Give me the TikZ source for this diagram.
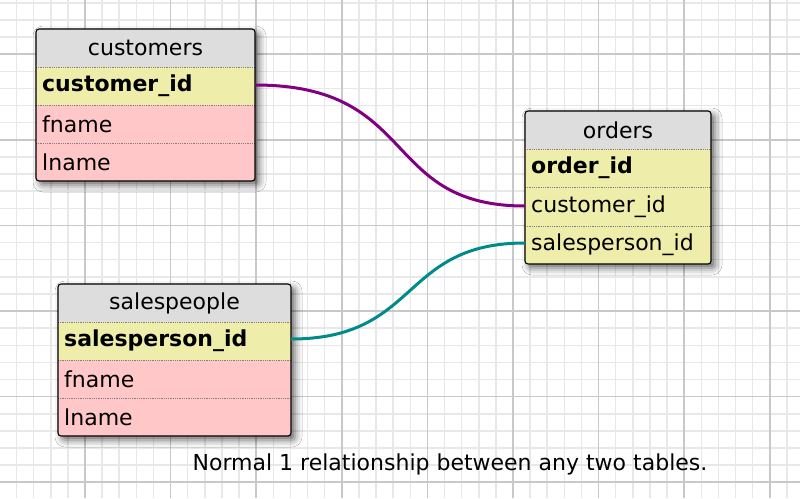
\documentclass[tikz,border=0pt]{standalone}
\usepackage{fontspec}
\setmainfont{DejaVu Sans}
\usetikzlibrary{shadows.blur}
\definecolor{hdr}{RGB}{221,221,221}
\definecolor{keyc}{RGB}{238,238,170}
\definecolor{attc}{RGB}{255,199,199}
\definecolor{minorg}{RGB}{232,232,232}
\definecolor{majorg}{RGB}{200,200,200}
\definecolor{purp}{RGB}{128,0,128}
\definecolor{tealc}{RGB}{0,139,139}
\tikzset{
 txt/.style={font=\fontsize{22}{24}\selectfont, inner sep=0pt, anchor=west},
 bold/.style={font=\fontsize{22}{24}\selectfont\bfseries},
 sep/.style={draw=gray, densely dotted, line width=0.8pt},
 frame/.style={draw=black, line width=1.1pt, rounded corners=3pt},
 link/.style={line width=3pt},
 shad/.style={blur shadow={shadow xshift=4pt,shadow yshift=-4pt,shadow blur radius=7pt,shadow opacity=60}}
}
\begin{document}
\begin{tikzpicture}[x=1pt,y=-1pt]
\useasboundingbox (0,0) rectangle (800,498);
\fill[white] (0,0) rectangle (800,498);
\foreach \i in {0,...,47} {\draw[minorg,line width=1.5pt] ({-0.6+17.12*\i},0) -- ({-0.6+17.12*\i},498);}
\foreach \i in {0,...,30} {\draw[minorg,line width=1.5pt] (0,{2.9+17.12*\i}) -- (800,{2.9+17.12*\i});}
\foreach \i in {0,...,10} {\draw[majorg,line width=1.6pt] ({-0.6+85.6*\i},0) -- ({-0.6+85.6*\i},498);}
\foreach \i in {0,...,6} {\draw[majorg,line width=1.6pt] (0,{54.2+85.6*\i}) -- (800,{54.2+85.6*\i});}

% customers
\fill[white, rounded corners=3pt, shad] (36,29) rectangle (255,181);
\fill[hdr, rounded corners=3pt] (36,29) rectangle (255,67);
\fill[keyc] (36,67) rectangle (255,105);
\fill[attc, rounded corners=3pt] (36,105) rectangle (255,181);
\fill[attc] (36,105) rectangle (255,150);
\draw[sep] (36,67) -- (255,67); \draw[sep] (36,105) -- (255,105); \draw[sep] (36,143) -- (255,143);
\draw[frame] (36,29) rectangle (255,181);
\node[txt, anchor=center] (cT) at (145.5,48) {customers};
\node[txt, bold] (cK) at (42,86) {customer\_id};
\node[txt] (cF) at (42,124) {fname};
\node[txt] (cL) at (42,162) {lname};
\coordinate (cR) at (255,85);

% orders
\fill[white, rounded corners=3pt, shad] (525,111) rectangle (711,264);
\fill[hdr, rounded corners=3pt] (525,111) rectangle (711,149);
\fill[keyc, rounded corners=3pt] (525,149) rectangle (711,264);
\fill[keyc] (525,149) rectangle (711,230);
\draw[sep] (525,149) -- (711,149); \draw[sep] (525,187) -- (711,187); \draw[sep] (525,226) -- (711,226);
\draw[frame] (525,111) rectangle (711,264);
\node[txt, anchor=center] (oT) at (618,130) {orders};
\node[txt, bold] (oK) at (531,168) {order\_id};
\node[txt] (oC) at (531,207) {customer\_id};
\node[txt] (oS) at (531,245) {salesperson\_id};
\coordinate (oCL) at (525,206);
\coordinate (oSL) at (525,243);

% salespeople
\fill[white, rounded corners=3pt, shad] (58,284) rectangle (291,436);
\fill[hdr, rounded corners=3pt] (58,284) rectangle (291,322);
\fill[keyc] (58,322) rectangle (291,360);
\fill[attc, rounded corners=3pt] (58,360) rectangle (291,436);
\fill[attc] (58,360) rectangle (291,405);
\draw[sep] (58,322) -- (291,322); \draw[sep] (58,360) -- (291,360); \draw[sep] (58,398) -- (291,398);
\draw[frame] (58,284) rectangle (291,436);
\node[txt, anchor=center] (sT) at (174.5,303) {salespeople};
\node[txt, bold] (sK) at (64,341) {salesperson\_id};
\node[txt] (sF) at (64,379) {fname};
\node[txt] (sL) at (64,417) {lname};
\coordinate (sR) at (291,339);

\draw[link, purp] (cR) .. controls (420,85) and (380,206) .. (oCL);
\draw[link, tealc] (sR) .. controls (420,339) and (400,243) .. (oSL);

\node[txt, anchor=center] (cap) at (450,464) {Normal 1 relationship between any two tables.};
\end{tikzpicture}
\end{document}
